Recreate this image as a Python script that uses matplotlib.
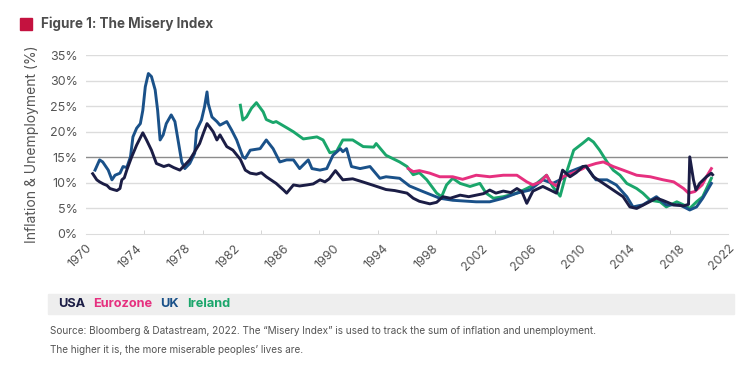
import matplotlib

matplotlib.use("Agg")
import matplotlib.pyplot as plt
import numpy as np
from matplotlib.patches import Rectangle

plt.rcParams["font.family"] = ["Inter", "DejaVu Sans"]

# values (x = position on the year axis, y = misery index %)
usa_x = [1970.54, 1970.87, 1971.1, 1971.4, 1971.7, 1971.94, 1972.2, 1972.5, 1972.75, 1972.9,
         1973.1, 1973.3, 1973.7, 1974.1, 1974.6, 1974.9, 1975.3, 1975.7, 1976.3, 1976.7,
         1977.1, 1977.6, 1978.0, 1978.4, 1978.8, 1979.2, 1979.5, 1979.8, 1980.0, 1980.3,
         1980.6, 1980.85, 1981.4, 1981.9, 1982.5, 1982.9, 1983.3, 1983.8, 1984.2, 1984.6,
         1985.4, 1986.0, 1986.25, 1986.8, 1987.3, 1987.9, 1988.4, 1988.95, 1989.35, 1989.7,
         1990.2, 1990.8, 1991.6, 1992.4, 1993.3, 1994.3, 1995.0, 1996.0, 1996.5, 1997.0,
         1997.85, 1998.4, 1998.9, 1999.5, 2000.3, 2001.0, 2001.6, 2002.2, 2002.7, 2003.2,
         2003.8, 2004.4, 2004.9, 2005.3, 2005.7, 2006.2, 2007.0, 2007.6, 2008.1, 2008.6,
         2009.2, 2009.7, 2010.25, 2010.5, 2011.1, 2011.9, 2012.7, 2013.5, 2014.05, 2014.6,
         2015.4, 2016.2, 2016.7, 2017.6, 2018.4, 2018.8, 2018.9, 2019.2, 2019.4, 2019.7,
         2020.25, 2020.65, 2020.75]
usa_y = [11.8, 10.6, 10.2, 9.8, 9.5, 8.9, 8.7, 8.5, 8.9, 10.6,
         11.0, 12.5, 15.1, 17.4, 19.8, 18.4, 16.4, 13.8, 13.2, 13.5,
         13.0, 12.5, 13.5, 14.5, 16.1, 17.7, 19.7, 21.6, 21.0, 20.0,
         18.4, 19.4, 17.1, 16.4, 14.6, 12.5, 11.9, 11.7, 12.0, 11.2,
         9.9, 8.6, 8.0, 9.6, 9.4, 9.6, 9.8, 10.6, 10.2, 10.8,
         12.4, 10.6, 10.8, 10.2, 9.5, 8.7, 8.5, 8.0, 7.0, 6.4,
         5.9, 6.2, 7.3, 7.0, 7.6, 7.3, 7.6, 7.9, 8.6, 8.0,
         8.4, 8.1, 8.9, 8.3, 6.0, 8.4, 9.3, 8.6, 8.0, 12.5,
         11.2, 12.0, 13.2, 13.3, 11.2, 9.9, 8.6, 7.3, 5.3, 5.0,
         6.0, 7.0, 6.6, 5.7, 5.5, 5.8, 15.1, 10.6, 8.6, 9.9,
         11.2, 11.9, 11.6]

uk_x = [1970.73, 1971.1, 1971.35, 1971.8, 1972.1, 1972.35, 1972.75, 1973.0, 1973.3, 1973.6,
        1973.8, 1974.1, 1974.4, 1974.6, 1974.8, 1975.05, 1975.3, 1975.6, 1975.8, 1976.0,
        1976.25, 1976.5, 1976.9, 1977.2, 1977.5, 1977.75, 1978.0, 1978.4, 1978.8, 1978.95,
        1979.35, 1979.6, 1979.8, 1979.9, 1980.2, 1980.6, 1980.85, 1981.4, 1981.8, 1982.2,
        1982.7, 1982.9, 1983.3, 1984.1, 1984.6, 1985.15, 1985.7, 1986.25, 1986.8, 1987.3,
        1988.0, 1988.3, 1988.95, 1989.5, 1990.0, 1990.6, 1990.8, 1991.1, 1991.5, 1992.2,
        1993.0, 1993.8, 1994.3, 1995.4, 1996.2, 1997.3, 1998.65, 1999.7, 2001.6, 2002.7,
        2003.8, 2004.9, 2005.95, 2007.0, 2007.8, 2008.4, 2009.2, 2010.25, 2010.5, 2011.3,
        2012.2, 2012.95, 2013.8, 2014.3, 2015.1, 2016.2, 2017.0, 2018.1, 2018.9, 2019.45,
        2019.95, 2020.65]
uk_y = [12.5, 14.5, 14.1, 12.5, 10.6, 11.5, 11.9, 13.2, 13.0, 15.1,
        19.0, 20.7, 21.6, 24.2, 28.8, 31.4, 30.8, 28.2, 24.2, 18.4,
        19.4, 21.6, 23.3, 22.0, 17.7, 14.1, 12.8, 13.8, 15.8, 20.3,
        22.3, 24.9, 27.8, 25.5, 22.9, 22.0, 21.3, 22.0, 20.3, 18.4,
        15.1, 14.8, 16.4, 16.7, 18.4, 16.7, 14.1, 14.5, 14.5, 12.8,
        14.5, 12.8, 12.5, 12.8, 15.4, 16.7, 16.1, 16.7, 13.2, 12.8,
        13.2, 10.9, 11.2, 10.9, 9.4, 8.3, 7.0, 6.6, 6.3, 6.3,
        7.0, 8.0, 8.6, 10.6, 9.9, 10.6, 12.2, 13.2, 13.2, 10.6,
        10.6, 9.6, 7.3, 5.3, 5.7, 7.3, 5.7, 5.7, 4.7, 5.3,
        7.0, 9.9]

ireland_x = [1982.5, 1982.7, 1983.0, 1983.4, 1983.8, 1984.35, 1984.6, 1985.15, 1985.4, 1986.25,
             1986.8, 1987.6, 1988.7, 1989.2, 1989.75, 1990.3, 1990.8, 1991.6, 1992.45, 1993.3,
             1993.5, 1994.3, 1995.4, 1996.0, 1996.5, 1997.0, 1997.6, 1998.4, 1998.8, 1999.2,
             1999.7, 2000.3, 2001.1, 2001.9, 2002.4, 2003.0, 2003.8, 2004.9, 2005.7, 2006.5,
             2007.3, 2007.8, 2008.4, 2008.9, 2009.5, 2010.25, 2010.7, 2011.1, 2011.6, 2012.2,
             2012.7, 2013.25, 2013.8, 2014.6, 2015.1, 2015.7, 2016.5, 2017.0, 2017.85, 2018.4,
             2018.9, 2019.45, 2019.95, 2020.65]
ireland_y = [25.2, 22.3, 22.9, 24.6, 25.7, 23.9, 22.4, 21.8, 22.0, 20.8,
             20.0, 18.6, 19.0, 18.4, 15.9, 16.2, 18.4, 18.4, 17.1, 17.0,
             17.7, 15.4, 14.1, 13.2, 11.6, 12.0, 10.6, 8.0, 7.3, 9.6,
             10.9, 9.9, 9.3, 9.9, 8.0, 7.0, 7.3, 8.0, 8.9, 9.9,
             11.5, 9.3, 7.4, 11.9, 16.4, 17.8, 18.7, 18.0, 16.4, 14.1,
             12.5, 11.5, 9.9, 8.9, 8.0, 6.6, 6.3, 5.3, 6.3, 5.7,
             5.0, 6.3, 7.3, 10.9]

euro_x = [1996.1, 1996.5, 1997.0, 1997.85, 1998.65, 1999.7, 2000.5, 2001.6, 2002.7, 2003.8,
          2004.9, 2005.7, 2006.2, 2006.8, 2007.3, 2007.6, 2008.1, 2008.6, 2009.4, 2010.25,
          2010.5, 2011.3, 2011.9, 2012.7, 2013.5, 2014.6, 2015.7, 2016.75, 2017.6, 2018.4,
          2018.8, 2019.3, 2019.9, 2020.25, 2020.65]
euro_y = [12.8, 12.2, 12.4, 11.9, 11.2, 11.2, 10.7, 11.5, 11.2, 11.5,
          11.5, 10.2, 9.6, 10.2, 11.5, 10.2, 9.4, 11.2, 11.9, 12.8,
          13.2, 13.8, 14.1, 13.2, 12.5, 11.5, 11.2, 10.6, 10.2, 8.9,
          8.0, 8.3, 9.6, 11.2, 12.8]

year_labels = list(range(1970, 2023, 4))
y_ticks = [0, 5, 10, 15, 20, 25, 30, 35]

C_USA = "#1b1d45"
C_EURO = "#e6307f"
C_UK = "#1a5189"
C_IRL = "#1aa66b"
GREY_TXT = "#555555"

fig = plt.figure(figsize=(7.5, 3.75), dpi=100)
ax = fig.add_axes([0.1147, 0.376, 0.856, 0.477])

for v in y_ticks[1:]:
    ax.axhline(v, color="#8c8c8c" if v == 15 else "#dcdcdc", linewidth=1.0, zorder=1)

ax.plot(ireland_x, ireland_y, color=C_IRL, linewidth=2.1, zorder=3)
ax.plot(uk_x, uk_y, color=C_UK, linewidth=2.1, zorder=4)
ax.plot(euro_x, euro_y, color=C_EURO, linewidth=2.1, zorder=5)
ax.plot(usa_x, usa_y, color=C_USA, linewidth=2.1, zorder=6)

ax.set_xlim(1970, 2022)
ax.set_ylim(0, 35)
ax.set_yticks(y_ticks)
ax.set_yticklabels([f"{v}%" for v in y_ticks])
ax.set_xticks(year_labels)
ax.set_xticklabels([str(y) for y in year_labels], rotation=45, ha="right",
                   rotation_mode="anchor")
ax.set_xticks(np.linspace(1970, 2022, 12), minor=True)
ax.tick_params(axis="x", which="major", length=0, pad=6, labelsize=9, colors=GREY_TXT)
ax.tick_params(axis="x", which="minor", length=3, direction="in", color="#cfcfcf")
ax.tick_params(axis="y", length=0, pad=6, labelsize=9, colors=GREY_TXT)
for side in ("top", "right", "left"):
    ax.spines[side].set_visible(False)
ax.spines["bottom"].set_color("#dcdcdc")
ax.set_ylabel("Inflation & Unemployment (%)", fontsize=10, color=GREY_TXT, labelpad=8)

# header
fig.add_artist(Rectangle((20 / 750, 1 - 30 / 375), 12 / 750, 12 / 375,
                         transform=fig.transFigure, color="#c4123f"))
fig.text(41 / 750, 1 - 24 / 375, "Figure 1: The Misery Index", fontsize=9.7,
         fontweight="bold", color="#4d4d4d", va="center")

# legend strip
fig.add_artist(Rectangle((48 / 750, 1 - 314 / 375), 686 / 750, 20 / 375,
                         transform=fig.transFigure, color="#eeeeee", zorder=0))
x = 58 / 750
for name, col in [("USA", C_USA), ("Eurozone", C_EURO), ("UK", C_UK), ("Ireland", C_IRL)]:
    t = fig.text(x, 1 - 304 / 375, name, fontsize=9.2, fontweight="bold", color=col,
                 va="center")
    fig.canvas.draw()
    bb = t.get_window_extent()
    x = (bb.x1 + 8) / 750

fig.text(50 / 750, 1 - 331 / 375,
         "Source: Bloomberg & Datastream, 2022. The \u201cMisery Index\u201d is used to track "
         "the sum of inflation and unemployment.",
         fontsize=7.2, color=GREY_TXT, va="center")
fig.text(50 / 750, 1 - 350 / 375, "The higher it is, the more miserable peoples\u2019 lives are.",
         fontsize=7.2, color=GREY_TXT, va="center")

fig.savefig("out.png", dpi=100)
